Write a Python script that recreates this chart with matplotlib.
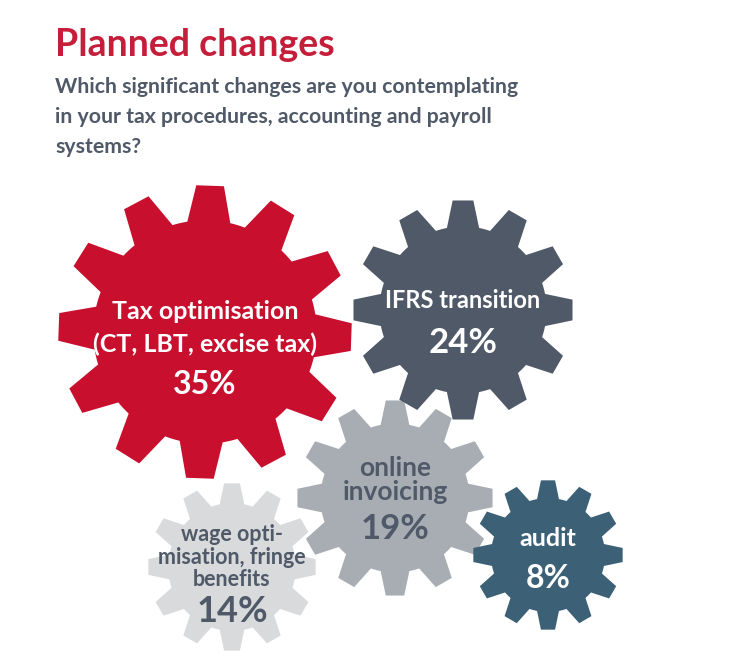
#!/usr/bin/env python3
# Planned changes - gear chart
import numpy as np
import matplotlib
matplotlib.use('Agg')
import matplotlib.pyplot as plt
from matplotlib.patches import Polygon
from matplotlib import font_manager

# -------------------------------------------------------------
# Data
categories = ['Tax optimisation\n(CT, LBT, excise tax)',
              'IFRS transition',
              'online\ninvoicing',
              'wage opti-\nmisation, fringe\nbenefits',
              'audit']
shares = [35, 24, 19, 14, 8]

title = 'Planned changes'
subtitle = ['Which significant changes are you contemplating',
            'in your tax procedures, accounting and payroll',
            'systems?']

# -------------------------------------------------------------
# Layout (pixels) and styles
centers = [(205, 332), (463, 310), (395, 498), (232, 567), (548, 555)]
radii = [147, 110, 98, 84, 75]
rotation = [88, 90, 90, 90, 90]
colors = ['#c8102e', '#4f5968', '#a8adb4', '#d9dadc', '#3c6177']
text_colors = ['white', 'white', '#4f5968', '#4f5968', 'white']
label_size = [18, 17, 19, 15.5, 18]
label_spacing = [1.45, 1.2, 1.05, 1.1, 1.2]
pct_size = [23, 25, 25, 26, 23]
label_y = [328, 300, 480, 557, 538]   # centre of label block
pct_y = [385, 343, 529, 612, 578]
draw_order = [2, 3, 0, 1, 4]

names = {f.name for f in font_manager.fontManager.ttflist}
font = 'Liberation Sans Narrow' if 'Liberation Sans Narrow' in names else 'Lato'
plt.rcParams['font.family'] = [font, 'DejaVu Sans']


def gear(cx, cy, r, n=12, depth=0.76, rot=90.0):
    pitch = 360.0 / n
    base = 0.37 * pitch
    tip = 0.18 * pitch
    rr = r * depth
    pts = []
    for i in range(n):
        a = rot + i * pitch
        for ang, rad in [(a - base, rr), (a - tip, r), (a + tip, r), (a + base, rr)]:
            pts.append((ang, rad))
        for ang in np.linspace(a + base, a + pitch - base, 5)[1:-1]:
            pts.append((ang, rr))
    pts = [(cx + rad * np.cos(np.radians(ang)), cy - rad * np.sin(np.radians(ang)))
           for ang, rad in pts]
    return Polygon(pts, closed=True)


fig = plt.figure(figsize=(7.34, 6.70), dpi=100)
ax = fig.add_axes([0, 0, 1, 1])
ax.set_xlim(0, 734)
ax.set_ylim(670, 0)
ax.set_aspect('equal')
ax.axis('off')

for i in draw_order:
    cx, cy = centers[i]
    g = gear(cx, cy, radii[i], rot=rotation[i])
    g.set_facecolor(colors[i])
    g.set_edgecolor('none')
    ax.add_patch(g)
    ax.text(cx, label_y[i], categories[i], ha='center', va='center',
            color=text_colors[i], fontsize=label_size[i], fontweight='bold',
            linespacing=label_spacing[i])
    ax.text(cx, pct_y[i], f'{shares[i]}%', ha='center', va='center',
            color=text_colors[i], fontsize=pct_size[i], fontweight='bold')

ax.text(55, 56, title, ha='left', va='baseline', color='#c41e3a',
        fontsize=27, fontweight='bold')
for k, line in enumerate(subtitle):
    ax.text(55, 93 + 30 * k, line, ha='left', va='baseline', color='#4f5968',
            fontsize=15.3, fontweight='bold')

fig.savefig('out.png', dpi=100)
